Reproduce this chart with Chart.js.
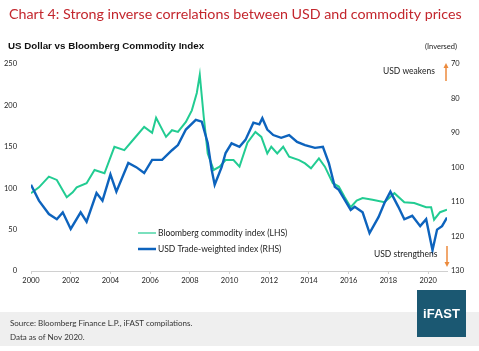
<!DOCTYPE html>
<html>
<head>
<meta charset="utf-8">
<script src="https://cdn.jsdelivr.net/npm/chart.js@4.4.0/dist/chart.umd.min.js"></script>
<style>
  html, body { margin: 0; padding: 0; background: #fff; }
  #wrap { width: 479px; height: 351px; position: relative; }
</style>
</head>
<body>
<div id="wrap"><canvas id="chart" width="479" height="351"></canvas></div>
<script>
// Bloomberg commodity index (LHS), x = decimal year
const commodityYears = [2000.0, 2000.4, 2000.9, 2001.3, 2001.8, 2002.1, 2002.3, 2002.8, 2003.2, 2003.7,
  2004.2, 2004.7, 2005.2, 2005.7, 2006.1, 2006.3, 2006.8, 2007.1, 2007.4, 2007.8,
  2008.1, 2008.35, 2008.5, 2008.7, 2008.9, 2009.2, 2009.5, 2009.8, 2010.2, 2010.5,
  2010.9, 2011.3, 2011.6, 2011.9, 2012.1, 2012.4, 2012.7, 2013.0, 2013.5, 2013.8,
  2014.1, 2014.5, 2014.8, 2015.2, 2015.5, 2015.8, 2016.1, 2016.4, 2016.7, 2017.2,
  2017.8, 2018.3, 2018.8, 2019.3, 2019.9, 2020.15, 2020.3, 2020.6, 2020.95];
const commodityValues = [94, 101, 114, 110, 89, 95, 101, 106, 122, 118,
  150, 146, 160, 174, 167, 185, 162, 170, 168, 180,
  194, 215, 237, 186, 142, 122, 126, 134, 134, 126,
  155, 168, 162, 142, 150, 142, 150, 138, 134, 130,
  124, 136, 126, 106, 102, 89, 77, 85, 88, 86,
  83, 94, 83, 82, 77, 77, 62, 71, 74];

// USD trade-weighted index (RHS, inversed)
const usdYears = [2000.0, 2000.4, 2000.9, 2001.3, 2001.6, 2002.0, 2002.5, 2002.8, 2003.3, 2003.6,
  2004.0, 2004.3, 2004.9, 2005.3, 2005.7, 2006.1, 2006.6, 2007.1, 2007.4, 2007.8,
  2008.3, 2008.6, 2008.9, 2009.1, 2009.25, 2009.6, 2009.8, 2010.1, 2010.5, 2010.8,
  2011.2, 2011.5, 2011.65, 2011.9, 2012.2, 2012.6, 2013.0, 2013.4, 2013.8, 2014.3,
  2014.7, 2015.0, 2015.3, 2015.5, 2015.8, 2016.1, 2016.3, 2016.7, 2017.05, 2017.5,
  2017.8, 2018.1, 2018.5, 2018.8, 2019.2, 2019.6, 2019.9, 2020.22, 2020.45, 2020.7, 2020.95];
const usdValues = [105, 109.6, 113.5, 115, 113, 117.8, 113, 115.7, 107.4, 109.6,
  102, 107, 98.7, 99.9, 101.6, 97.8, 97.8, 95, 93.5, 89,
  86.2, 86.7, 92.9, 100.7, 105, 99.9, 95.8, 93, 94, 92,
  87, 87.5, 85.7, 89, 90.6, 91.4, 90.6, 92.6, 93.5, 94.3,
  94, 98.7, 105.6, 106.5, 109.4, 112.3, 111.4, 113, 119, 114.4,
  110.3, 107, 111.4, 115, 114, 117, 115, 124, 118, 117, 114.5];

const leftTicks = [0, 50, 100, 150, 200, 250];
const rightTicks = [70, 80, 90, 100, 110, 120, 130];
const yearTicks = [2000, 2002, 2004, 2006, 2008, 2010, 2012, 2014, 2016, 2018, 2020];

const GREEN = '#22cc92';
const BLUE = '#0d63bd';
const ORANGE = '#ec8a3c';
const TICK_FONT = { family: 'Lato', size: 7.5 };

function fitFont(ctx, text, weight, family, maxW, startSize) {
  let s = startSize;
  ctx.font = weight + ' ' + s + 'px ' + family;
  while (ctx.measureText(text).width > maxW && s > 5) {
    s -= 0.25;
    ctx.font = weight + ' ' + s + 'px ' + family;
  }
  return s;
}

const decor = {
  id: 'decor',
  beforeDraw(chart) {
    const ctx = chart.ctx;
    ctx.save();
    ctx.fillStyle = '#ffffff';
    ctx.fillRect(0, 0, chart.width, chart.height);
    ctx.fillStyle = '#efefef';
    ctx.fillRect(0, 312, chart.width, 34);
    ctx.restore();
  },
  afterDraw(chart) {
    const ctx = chart.ctx;
    ctx.save();
    ctx.textBaseline = 'middle';
    ctx.textAlign = 'left';

    // title
    const title = 'Chart 4: Strong inverse correlations between USD and commodity prices';
    fitFont(ctx, title, 'normal', 'Lato', 456, 16);
    ctx.fillStyle = '#c3262d';
    ctx.fillText(title, 9, 14);

    // subtitle
    const sub = 'US Dollar vs Bloomberg Commodity Index';
    fitFont(ctx, sub, 'bold', '"Liberation Sans"', 199, 10);
    ctx.fillStyle = '#111';
    ctx.fillText(sub, 8, 46);

    ctx.font = '7.5px Lato';
    ctx.fillStyle = '#222';
    ctx.fillText('(Inversed)', 425, 47);

    // annotations
    ctx.font = '8.5px Lato';
    ctx.fillText('USD weakens', 383, 71);
    ctx.fillText('USD strengthens', 374, 254);

    ctx.strokeStyle = ORANGE;
    ctx.fillStyle = ORANGE;
    ctx.lineWidth = 1.5;
    ctx.beginPath(); ctx.moveTo(446, 81); ctx.lineTo(446, 67); ctx.stroke();
    ctx.beginPath(); ctx.moveTo(446, 63); ctx.lineTo(443.5, 68); ctx.lineTo(448.5, 68); ctx.closePath(); ctx.fill();
    ctx.beginPath(); ctx.moveTo(447, 246); ctx.lineTo(447, 263); ctx.stroke();
    ctx.beginPath(); ctx.moveTo(447, 267); ctx.lineTo(444.5, 262); ctx.lineTo(449.5, 262); ctx.closePath(); ctx.fill();

    // legend
    ctx.lineWidth = 1.2;
    ctx.strokeStyle = GREEN;
    ctx.beginPath(); ctx.moveTo(138, 233); ctx.lineTo(156, 233); ctx.stroke();
    ctx.lineWidth = 2.5;
    ctx.strokeStyle = BLUE;
    ctx.beginPath(); ctx.moveTo(138, 249); ctx.lineTo(156, 249); ctx.stroke();
    ctx.fillStyle = '#222';
    const l1 = 'Bloomberg commodity index (LHS)';
    fitFont(ctx, l1, 'normal', 'Lato', 135, 8.5);
    ctx.fillText(l1, 158, 233);
    const l2 = 'USD Trade-weighted index (RHS)';
    fitFont(ctx, l2, 'normal', 'Lato', 129, 8.5);
    ctx.fillText(l2, 158, 249);

    // footer
    ctx.fillStyle = '#333';
    ctx.font = '8px Lato';
    ctx.fillText('Source: Bloomberg Finance L.P., iFAST compilations.', 10, 323);
    ctx.fillText('Data as of Nov 2020.', 10, 337);

    ctx.fillStyle = '#1b5872';
    ctx.fillRect(417, 290, 49, 47);
    ctx.fillStyle = '#ffffff';
    ctx.font = 'bold 13px "Liberation Sans"';
    ctx.textAlign = 'center';
    ctx.fillText('iFAST', 441.5, 314);
    ctx.restore();
  }
};

const commodityData = commodityYears.map((x, i) => ({ x: x, y: commodityValues[i] }));
const usdData = usdYears.map((x, i) => ({ x: x, y: usdValues[i] }));

new Chart(document.getElementById('chart').getContext('2d'), {
  type: 'line',
  data: {
    datasets: [
      {
        label: 'Bloomberg commodity index (LHS)',
        data: commodityData,
        borderColor: GREEN,
        borderWidth: 2,
        pointRadius: 0,
        tension: 0,
        yAxisID: 'y',
        order: 1
      },
      {
        label: 'USD Trade-weighted index (RHS)',
        data: usdData,
        borderColor: BLUE,
        borderWidth: 2.4,
        pointRadius: 0,
        tension: 0,
        yAxisID: 'y1',
        order: 0
      }
    ]
  },
  options: {
    responsive: false,
    animation: false,
    layout: { padding: { top: 64, bottom: 62, left: 0, right: 0 } },
    plugins: {
      legend: { display: false },
      tooltip: { enabled: false }
    },
    scales: {
      x: {
        type: 'linear',
        min: 2000,
        max: 2020.95,
        afterBuildTicks: axis => { axis.ticks = yearTicks.map(v => ({ value: v })); },
        afterFit: axis => { axis.height = 18; },
        ticks: {
          font: TICK_FONT,
          color: '#222',
          padding: 2,
          maxRotation: 0,
          autoSkip: false,
          callback: v => String(v)
        },
        grid: { display: true, drawOnChartArea: false, drawTicks: true, tickLength: 3, color: '#d0d0d0' },
        border: { color: '#d0d0d0' }
      },
      y: {
        position: 'left',
        min: 0,
        max: 250,
        afterBuildTicks: axis => { axis.ticks = leftTicks.map(v => ({ value: v })); },
        afterFit: axis => { axis.width = 31; },
        ticks: { font: TICK_FONT, color: '#222', padding: 14 },
        grid: { display: false, drawTicks: false },
        border: { display: false }
      },
      y1: {
        position: 'right',
        min: 70,
        max: 130,
        reverse: true,
        afterBuildTicks: axis => { axis.ticks = rightTicks.map(v => ({ value: v })); },
        afterFit: axis => { axis.width = 32; },
        ticks: { font: TICK_FONT, color: '#222', padding: 4 },
        grid: { display: false, drawTicks: false },
        border: { display: false }
      }
    }
  },
  plugins: [decor]
});
</script>
</body>
</html>
